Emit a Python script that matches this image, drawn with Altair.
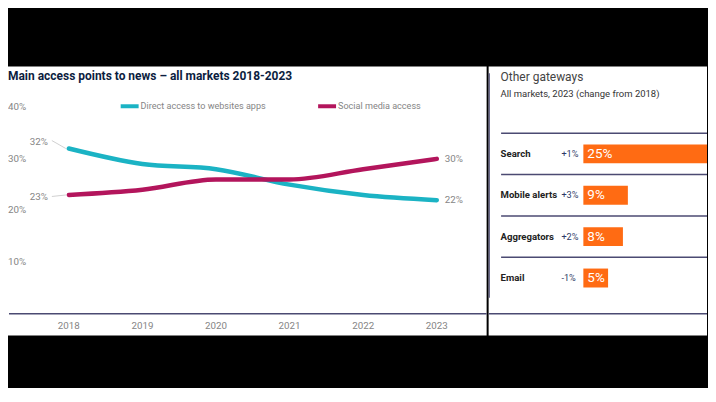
import altair as alt
import pandas as pd

# ---------------- data ----------------
years = [2018, 2019, 2020, 2021, 2022, 2023]
direct = [32, 29, 28, 25, 23, 22]
social = [23, 24, 26, 26, 28, 30]
series_names = ["Direct access to websites apps", "Social media access"]
series_colors = ["#1bb3c4", "#b3155c"]
y_ticks = [10, 20, 30, 40]

gateways = ["Search", "Mobile alerts", "Aggregators", "Email"]
gateway_share = [25, 9, 8, 5]
gateway_change = ["+1%", "+3%", "+2%", "-1%"]

title_left = "Main access points to news \u2013 all markets 2018-2023"
title_right = "Other gateways"
subtitle_right = "All markets, 2023 (change from 2018)"

FONT = "Roboto"
GREY = "#858585"
NAVY = "#4b4a72"
TICK_FS = 9.8

# ---------------- tables ----------------
lines_df = pd.DataFrame(
    {
        "year": years * 2,
        "series": [series_names[0]] * len(years) + [series_names[1]] * len(years),
        "value": direct + social,
    }
)
lines_df["label"] = lines_df["value"].astype(str) + "%"
ticks_df = pd.DataFrame({"tick": y_ticks, "label": [f"{t}%" for t in y_ticks]})
years_df = pd.DataFrame({"year": years, "label": [str(y) for y in years]})
zero_df = pd.DataFrame({"zero": [0]})
gw_df = pd.DataFrame(
    {
        "gateway": gateways,
        "share": gateway_share,
        "base": [0] * len(gateways),
        "change": gateway_change,
        "label": [f"{s}%" for s in gateway_share],
    }
)

# ---------------- left panel ----------------
xs = alt.Scale(domain=[2018, 2023], range=[61, 430], nice=False, zero=False)
ys = alt.Scale(domain=[0, 40], range=[248, 41], nice=False, zero=False)
X = alt.X("year:Q", scale=xs, axis=None)
Y = alt.Y("value:Q", scale=ys, axis=None)

base = alt.Chart(lines_df)

lines = base.mark_line(interpolate="monotone", strokeWidth=4.5, strokeCap="round").encode(
    x=X,
    y=Y,
    color=alt.Color(
        "series:N",
        scale=alt.Scale(domain=series_names, range=series_colors),
        legend=alt.Legend(
            title=None,
            orient="none",
            legendX=111,
            legendY=29,
            direction="horizontal",
            symbolType="stroke",
            symbolSize=324,
            symbolStrokeWidth=4,
            labelFontSize=9.1,
            labelColor=GREY,
            labelFont=FONT,
            labelOffset=0,
            columnPadding=44,
            padding=0,
        ),
    ),
)

ytick_text = alt.Chart(ticks_df).mark_text(
    align="left", baseline="middle", fontSize=TICK_FS, color=GREY, font=FONT
).encode(x=alt.value(0), y=alt.Y("tick:Q", scale=ys, axis=None), text="label:N")

xtick_text = alt.Chart(years_df).mark_text(
    align="center", baseline="middle", fontSize=TICK_FS, color=GREY, font=FONT
).encode(x=alt.X("year:Q", scale=xs, axis=None), y=alt.value(260.5), text="label:N")

baseline_left = alt.Chart(zero_df).mark_rule(color=NAVY, strokeWidth=1.5).encode(
    y=alt.Y("zero:Q", scale=ys, axis=None), x=alt.value(1), x2=alt.value(480)
)

end_labels = base.transform_filter(alt.datum.year == 2023).mark_text(
    align="left", baseline="middle", dx=8, fontSize=TICK_FS, color=GREY, font=FONT
).encode(x=X, y=Y, text="label:N")

start_direct = base.transform_filter(
    (alt.datum.year == 2018) & (alt.datum.series == series_names[0])
)
start_social = base.transform_filter(
    (alt.datum.year == 2018) & (alt.datum.series == series_names[1])
)
lbl_direct = start_direct.mark_text(
    align="right", baseline="middle", dx=-21, dy=-7, fontSize=TICK_FS, color=GREY, font=FONT
).encode(x=X, y=Y, text="label:N")
lbl_social = start_social.mark_text(
    align="right", baseline="middle", dx=-21, dy=2, fontSize=TICK_FS, color=GREY, font=FONT
).encode(x=X, y=Y, text="label:N")
lead_direct = start_direct.mark_rule(
    color="#c4c4c4", strokeWidth=0.8, xOffset=-3, x2Offset=-17, y2Offset=-8
).encode(x=X, x2=alt.X2("year"), y=Y, y2=alt.Y2("value"))
lead_social = start_social.mark_rule(
    color="#c4c4c4", strokeWidth=0.8, xOffset=-3, x2Offset=-17, y2Offset=1.5
).encode(x=X, x2=alt.X2("year"), y=Y, y2=alt.Y2("value"))

title_l = alt.Chart(pd.DataFrame({"t": [title_left]})).mark_text(
    align="left", baseline="middle", fontSize=12, fontWeight="bold", color="#0c1d40", font=FONT
).encode(x=alt.value(0), y=alt.value(10), text="t:N")

left = alt.layer(
    baseline_left, lead_direct, lead_social, lines, ytick_text, xtick_text,
    end_labels, lbl_direct, lbl_social, title_l,
).properties(width=480, height=270)

# ---------------- right panel ----------------
xs2 = alt.Scale(domain=[0, 25], range=[95, 219], nice=False)
ys2 = alt.Scale(domain=gateways, range=[67, 233], paddingInner=0, paddingOuter=0)
gbase = alt.Chart(gw_df)
GY = alt.Y("gateway:N", scale=ys2, axis=None)

one = pd.DataFrame({"t": [title_right], "s": [subtitle_right]})
divider = alt.Chart(one).mark_rule(color=NAVY, strokeWidth=1.2).encode(
    x=alt.value(0.6), y=alt.value(7), y2=alt.value(232)
)
baseline_right = alt.Chart(one).mark_rule(color=NAVY, strokeWidth=1.5).encode(
    x=alt.value(0), x2=alt.value(219), y=alt.value(248)
)
title_r = alt.Chart(one).mark_text(
    align="left", baseline="middle", fontSize=12, color="#444444", font=FONT
).encode(x=alt.value(12), y=alt.value(11), text="t:N")
subtitle_r = alt.Chart(one).mark_text(
    align="left", baseline="middle", fontSize=9.5, color="#333333", font=FONT
).encode(x=alt.value(12), y=alt.value(28), text="s:N")

separators = gbase.mark_rule(color=NAVY, strokeWidth=1.5, yOffset=-20.75).encode(
    y=GY,
    x=alt.value(12.5),
    x2=alt.value(219),
)
bars = gbase.mark_bar(height=19, color="#ff6b13").encode(
    x=alt.X("share:Q", scale=xs2, axis=None), x2=alt.X2("base"), y=GY
)
bar_labels = gbase.mark_text(
    align="left", baseline="middle", dx=4, fontSize=13.5, color="white", font=FONT
).encode(x=alt.X("base:Q", scale=xs2, axis=None), y=GY, text="label:N")
row_labels = gbase.mark_text(
    align="left", baseline="middle", fontSize=9.6, fontWeight="bold", color="#222222", font=FONT
).encode(x=alt.value(12), y=GY, text="gateway:N")
change_labels = gbase.mark_text(
    align="left", baseline="middle", fontSize=9.2, color="#2d3a66", font=FONT
).encode(x=alt.value(73), y=GY, text="change:N")

right = alt.layer(
    divider, baseline_right, title_r, subtitle_r, separators, bars, bar_labels,
    row_labels, change_labels,
).properties(width=219, height=270)

chart = (
    alt.hconcat(left, right, spacing=0)
    .properties(padding={"top": 58, "bottom": 52, "left": 0, "right": 0})
    .configure(background="black")
    .configure_view(fill="white", stroke=None)
)

chart.save("out.html", embed_options={"renderer": "svg", "actions": False})
